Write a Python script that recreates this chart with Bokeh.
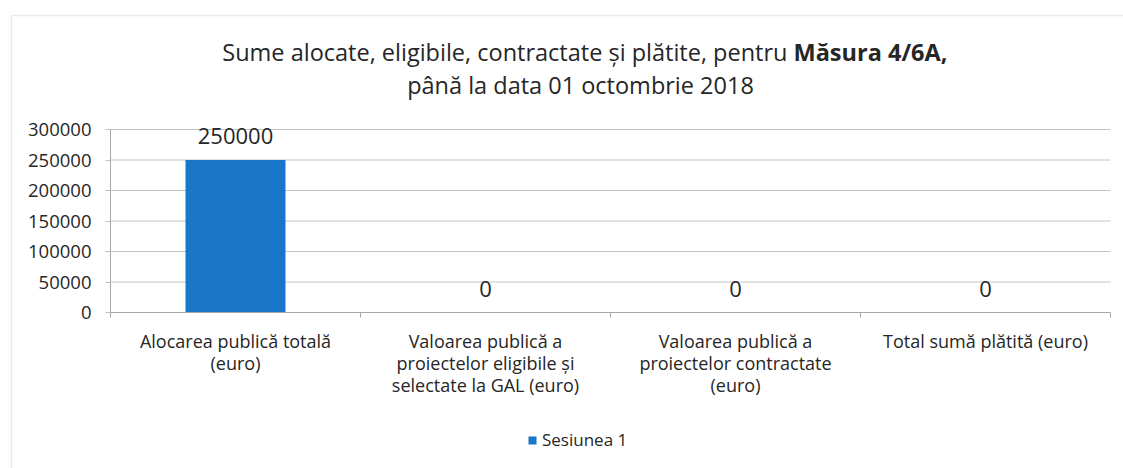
from bokeh.plotting import figure
from bokeh.models import (Range1d, FixedTicker, Label, LabelSet, Legend,
                          LegendItem, ColumnDataSource, BasicTickFormatter,
                          BoxAnnotation)
from bokeh.core.properties import value
from bokeh.embed import file_html
from bokeh.resources import INLINE

# ---- data ----
categories = [
    "Alocarea publică totală\n(euro)",
    "Valoarea publică a\nproiectelor eligibile și\nselectate la GAL (euro)",
    "Valoarea publică a\nproiectelor contractate\n(euro)",
    "Total sumă plătită (euro)",
]
series_name = "Sesiunea 1"
values = [250000, 0, 0, 0]
y_ticks = [0, 50000, 100000, 150000, 200000, 250000, 300000]
title_normal = "Sume alocate, eligibile, contractate și plătite, pentru"
title_bold = "Măsura 4/6A,"
title_line2 = "până la data 01 octombrie 2018"

FONT = "Open Sans"
TXT = "#262626"
BLUE = "#1a76c8"

# ---- layout geometry (pixels) ----
W, H = 1123, 468
PLOT_L, PLOT_R = 110, 1110      # pixel columns of the plot area
AXIS_Y, TOP_Y = 312, 129        # pixel rows of y=0 and y=max tick
NCAT = len(categories)
Y_MAX = y_ticks[-1]
XPX = (PLOT_R - PLOT_L) / NCAT  # px per category
YPX = (AXIS_Y - TOP_Y) / Y_MAX  # px per unit


def xd(px):
    return (px - PLOT_L) / XPX


def yd(py):
    return (AXIS_Y - py) / YPX


xs = [i + 0.5 for i in range(NCAT)]
src = ColumnDataSource(dict(x=xs, top=values, lbl=[str(v) for v in values]))

# the frame fills the whole canvas; axes are pinned at x=0 / y=0
p = figure(width=W, height=H, output_backend="svg", toolbar_location=None,
           x_range=Range1d(xd(0), xd(W)), y_range=Range1d(yd(H), yd(0)),
           min_border_left=0, min_border_right=0, min_border_top=0,
           min_border_bottom=0)
p.outline_line_color = None
p.background_fill_color = "white"
p.border_fill_color = "white"

# gridlines across the plot area
grid_src = ColumnDataSource(dict(y=y_ticks[1:]))
p.segment(x0=0, x1=NCAT, y0="y", y1="y", source=grid_src,
          line_color="#c4c4c4", line_width=1)

# bars
r = p.vbar(x="x", top="top", width=0.4, source=src, fill_color=BLUE,
           line_color=None)

# value labels
p.add_layout(LabelSet(x="x", y="top", text="lbl", source=src,
                      text_align="center", text_baseline="middle",
                      y_offset=24, text_font=value(FONT),
                      text_font_size="22px", text_color=TXT))

# axes
p.xgrid.visible = False
p.ygrid.visible = False

p.yaxis.fixed_location = 0
p.yaxis.bounds = (0, Y_MAX)
p.yaxis.ticker = FixedTicker(ticks=y_ticks)
p.yaxis.formatter = BasicTickFormatter(use_scientific=False)
p.yaxis.major_label_text_font = FONT
p.yaxis.major_label_text_font_size = "18.5px"
p.yaxis.major_label_text_color = TXT
p.yaxis.axis_line_color = "#a6a6a6"
p.yaxis.major_tick_line_color = "#bfbfbf"
p.yaxis.major_tick_in = 0
p.yaxis.major_tick_out = 5
p.yaxis.minor_tick_line_color = None
p.yaxis.major_label_standoff = 14

p.xaxis.fixed_location = 0
p.xaxis.bounds = (0, NCAT)
p.xaxis.ticker = FixedTicker(ticks=xs, minor_ticks=list(range(NCAT + 1)))
p.xaxis.major_label_overrides = {x: c for x, c in zip(xs, categories)}
p.xaxis.major_label_text_font = FONT
p.xaxis.major_label_text_font_size = "18px"
p.xaxis.major_label_text_color = TXT
p.xaxis.major_label_text_line_height = 0.92
p.xaxis.major_tick_line_color = None
p.xaxis.minor_tick_line_color = "#a6a6a6"
p.xaxis.minor_tick_in = 0
p.xaxis.minor_tick_out = 5
p.xaxis.axis_line_color = "#a6a6a6"
p.xaxis.major_label_standoff = 10

# title (mixed weight on the first line)
TITLE_SIZE = "23.5px"
split_px = 787
p.add_layout(Label(x=xd(split_px), y=yd(51), text=title_normal,
                   text_align="right", text_baseline="middle", text_font=FONT,
                   text_font_size=TITLE_SIZE, text_color=TXT))
p.add_layout(Label(x=xd(split_px + 6), y=yd(51), text=title_bold,
                   text_align="left", text_baseline="middle", text_font=FONT,
                   text_font_size=TITLE_SIZE, text_font_style="bold",
                   text_color=TXT))
p.add_layout(Label(x=xd(580), y=yd(84), text=title_line2, text_align="center",
                   text_baseline="middle", text_font=FONT,
                   text_font_size=TITLE_SIZE, text_color=TXT))

# chart-area border (left + top edges visible)
p.add_layout(BoxAnnotation(left=xd(11), right=xd(W + 50), top=yd(15),
                           bottom=yd(H + 50), fill_alpha=0,
                           line_color="#b8b8b8", line_width=1.5))

# legend
legend = Legend(items=[LegendItem(label=series_name, renderers=[r])],
                location=(527, 17), orientation="horizontal",
                glyph_width=10, glyph_height=10, label_standoff=5,
                padding=0, margin=0, border_line_color=None,
                background_fill_alpha=0,
                label_text_font=FONT, label_text_font_size="17px",
                label_text_color=TXT)
p.add_layout(legend, "center")

open("out.html", "w").write(file_html(p, INLINE))
